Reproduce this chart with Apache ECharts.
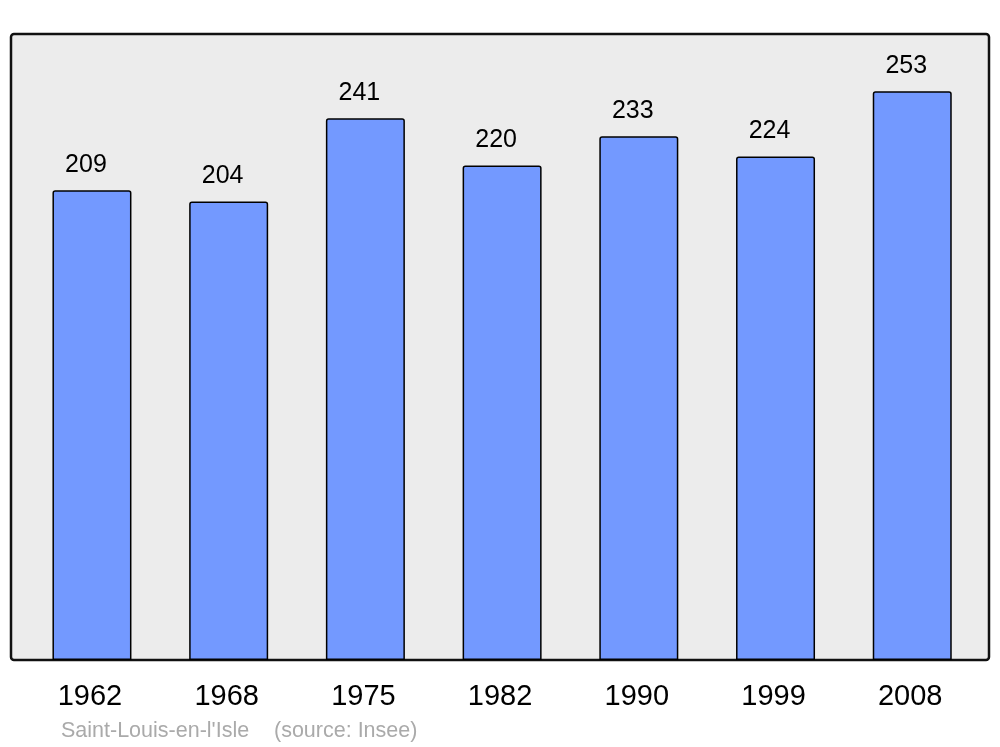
<!DOCTYPE html>
<html>
<head>
<meta charset="utf-8">
<script src="https://cdn.jsdelivr.net/npm/echarts@6/dist/echarts.min.js"></script>
<style>html,body{margin:0;padding:0;background:#fff}#c{width:1000px;height:747px}</style>
</head>
<body>
<div id="c"></div>
<script>
const years = ['1962', '1968', '1975', '1982', '1990', '1999', '2008'];
const population = [209, 204, 241, 220, 233, 224, 253];
const placeName = "Saint-Louis-en-l'Isle";
const sourceText = '(source: Insee)';

const chart = echarts.init(document.getElementById('c'), null, {renderer: 'canvas'});
const FONT = '"Liberation Sans", Arial, sans-serif';
chart.setOption({
  animation: false,
  backgroundColor: '#ffffff',
  grid: {left: 23.6, width: 957, top: 34, bottom: 87, containLabel: false},
  graphic: [
    {type: 'rect', z: -10, shape: {x: 11, y: 34, width: 978, height: 626, r: 3},
     style: {fill: '#ececec', stroke: '#111111', lineWidth: 2.5}},
    {type: 'text', left: 61, top: 720, style: {text: placeName, fill: '#aaaaaa', font: '21.5px ' + FONT}},
    {type: 'text', left: 274, top: 720, style: {text: sourceText, fill: '#aaaaaa', font: '21.5px ' + FONT}}
  ],
  xAxis: {
    type: 'category', data: years,
    axisLine: {show: false}, axisTick: {show: false},
    axisLabel: {fontSize: 29, color: '#000', fontFamily: FONT, margin: 22, padding: [0, 4, 0, 0]}
  },
  yAxis: {
    type: 'value', min: 0, max: 278.5,
    axisLine: {show: false}, axisTick: {show: false}, axisLabel: {show: false}, splitLine: {show: false}
  },
  series: [{
    type: 'bar', data: population, barWidth: 79,
    itemStyle: {color: '#7399ff', borderColor: '#000', borderWidth: 1.5, borderRadius: [2, 2, 0, 0]},
    label: {show: true, position: 'top', distance: 13, offset: [-6, 0], fontSize: 25, color: '#000', fontFamily: FONT}
  }]
});
</script>
</body>
</html>
